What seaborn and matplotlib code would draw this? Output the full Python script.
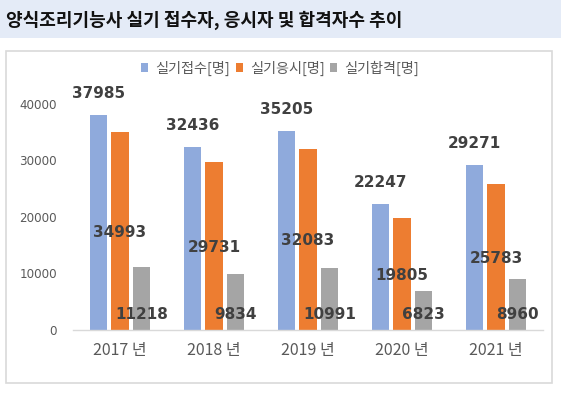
#!/usr/bin/env python3

import seaborn as sns
import matplotlib.pyplot as plt
from matplotlib.patches import Rectangle
import pandas as pd

years = ['2017 년', '2018 년', '2019 년', '2020 년', '2021 년']
series = ['실기접수[명]', '실기응시[명]', '실기합격[명]']
applied = [37985, 32436, 35205, 22247, 29271]
took = [34993, 29731, 32083, 19805, 25783]
passed = [11218, 9834, 10991, 6823, 8960]
colors = ['#8faadc', '#ed7d31', '#a5a5a5']

W, H = 561, 394

sns.set_theme(style='white')
plt.rcParams['font.family'] = ['Noto Sans CJK KR', 'DejaVu Sans']

df = pd.DataFrame({'year': years * 3,
                   'series': [series[0]] * 5 + [series[1]] * 5 + [series[2]] * 5,
                   'value': applied + took + passed})

fig = plt.figure(figsize=(W / 100, H / 100), dpi=100)

# title band and chart frame
fig.patches.append(Rectangle((0, 1 - 37.5 / H), 1, 37.5 / H, transform=fig.transFigure,
                             facecolor='#e4ebf7', edgecolor='none', zorder=0))
fig.patches.append(Rectangle((6 / W, 1 - 383 / H), 546 / W, 332 / H, transform=fig.transFigure,
                             facecolor='none', edgecolor='#d9d9d9', linewidth=1.2, zorder=0))
fig.text(6 / W, 1 - 20 / H, '양식조리기능사 실기 접수자, 응시자 및 합격자수 추이',
         fontsize=13, fontweight='bold', color='#111111', va='center', ha='left')

ax = fig.add_axes([73 / W, (H - 330) / H, 470 / W, 226 / H])
ax.patch.set_alpha(0)
sns.barplot(data=df, x='year', y='value', hue='series', palette=colors, saturation=1,
            width=0.68, gap=0.2, linewidth=0, ax=ax, legend=False)

ax.set_xlim(-0.5, 4.5)
ax.set_ylim(0, 40000)
ax.set_yticks(range(0, 40001, 10000))
ax.set_xlabel('')
ax.set_ylabel('')
for s in ['top', 'left', 'right']:
    ax.spines[s].set_visible(False)
ax.spines['bottom'].set_color('#d9d9d9')
ax.spines['bottom'].set_linewidth(1.0)
ax.tick_params(axis='y', length=0, pad=11.5, labelsize=8.6, labelcolor='#595959')
ax.tick_params(axis='x', length=0, pad=9, labelsize=11.5, labelcolor='#595959')
for t in ax.get_yticklabels():
    t.set_family('DejaVu Sans')

lab = dict(fontsize=11, fontweight='bold', color='#404040', family='DejaVu Sans',
           ha='center', va='baseline', annotation_clip=False)
blue, orange, gray = ax.containers
for bar, v in zip(blue, applied):
    ax.annotate(str(v), (bar.get_x() + bar.get_width() / 2, bar.get_height()),
                xytext=(0, 12.2), textcoords='offset points', **lab)
for bar, v in zip(orange, took):
    ax.annotate(str(v), (bar.get_x() + bar.get_width() / 2, bar.get_height() / 2),
                xytext=(0, -4), textcoords='offset points', **lab)
for bar, v in zip(gray, passed):
    ax.annotate(str(v), (bar.get_x() + bar.get_width() / 2, 0),
                xytext=(0, 8.2), textcoords='offset points', **lab)

handles = [Rectangle((0, 0), 1, 1, facecolor=c, edgecolor='none') for c in colors]
fig.legend(handles, series, loc='center left', bbox_to_anchor=(141 / W, 1 - 68 / H),
           ncol=3, frameon=False, fontsize=10.2, labelcolor='#595959',
           handlelength=0.5, handleheight=0.5, handletextpad=0.5,
           columnspacing=0.4, borderpad=0, borderaxespad=0)

fig.savefig('out.png', dpi=100)
